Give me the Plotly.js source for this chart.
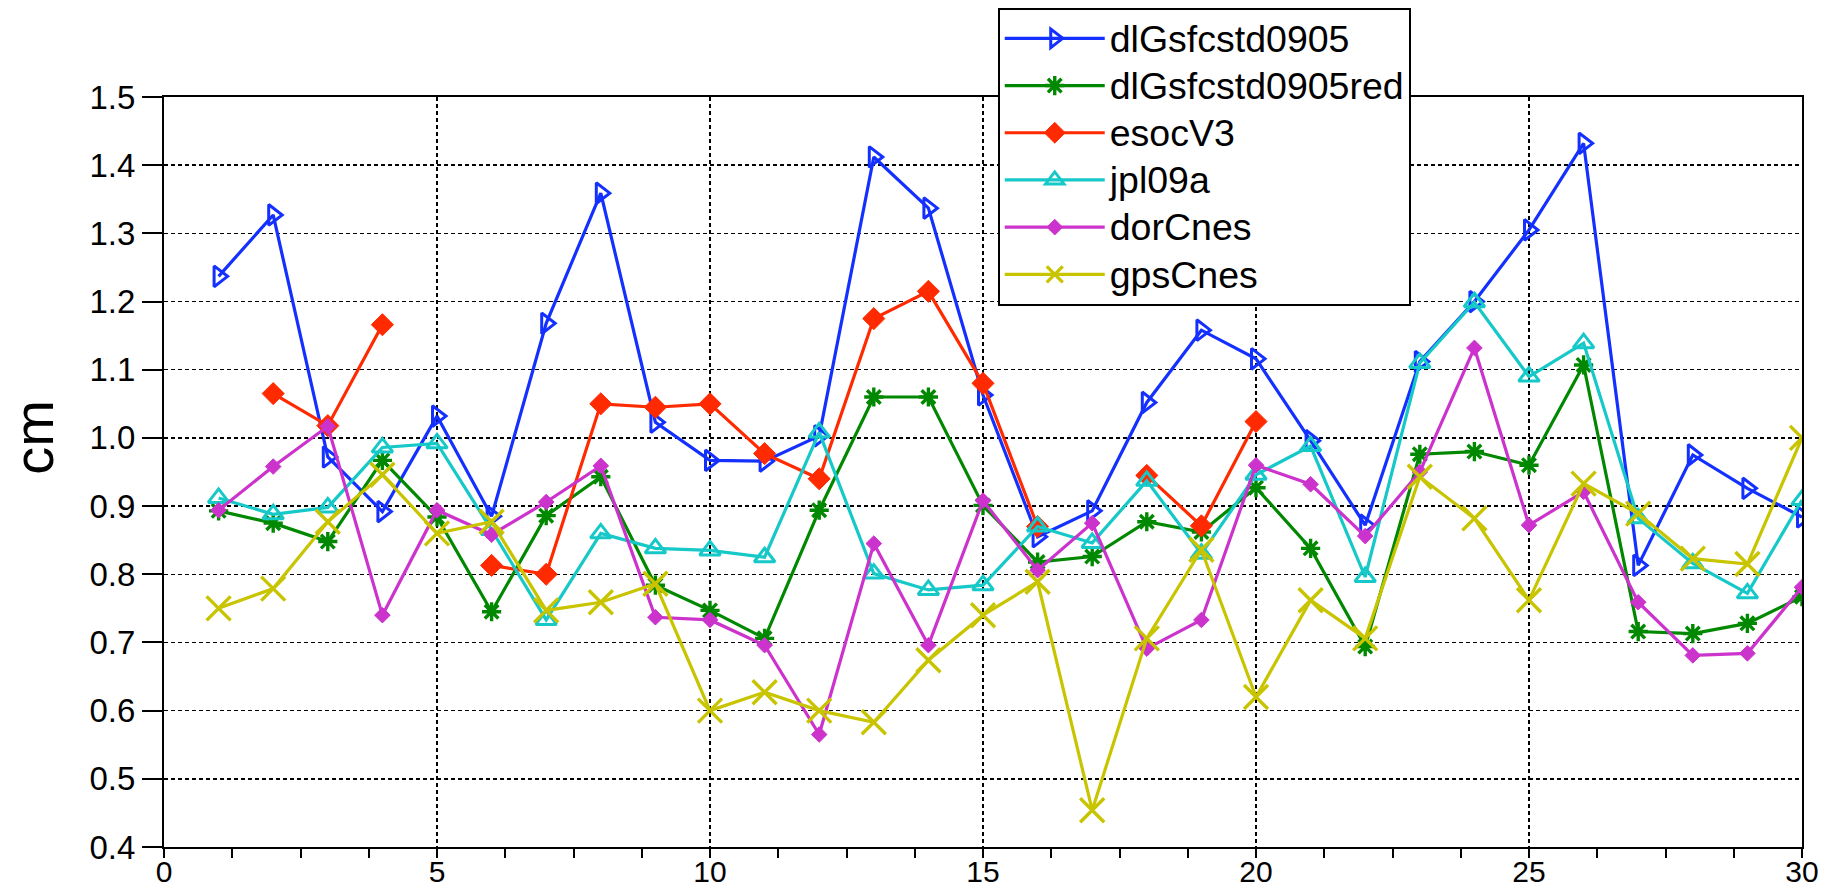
<!DOCTYPE html>
<html>
<head>
<meta charset="utf-8">
<script src="https://cdn.plot.ly/plotly-3.0.1.min.js"></script>
<style>
  html, body { margin: 0; padding: 0; background: #ffffff; }
  #chart { width: 1837px; height: 889px; }
</style>
</head>
<body>
<div id="chart"></div>
<script>
// Day index along the x axis
const days = [1,2,3,4,5,6,7,8,9,10,11,12,13,14,15,16,17,18,19,20,21,22,23,24,25,26,27,28,29,30];

// RMS values (cm) per solution
const dlGsfcstd0905 = [1.237,1.327,0.972,0.892,1.032,0.885,1.168,1.359,1.023,0.967,0.966,1.003,1.412,1.337,1.063,0.855,0.893,1.052,1.158,1.116,0.996,0.872,1.112,1.200,1.305,1.432,0.813,0.975,0.926,0.884];
const dlGsfcstd0905red = [0.893,0.875,0.848,0.967,0.884,0.745,0.886,0.943,0.784,0.747,0.706,0.894,1.060,1.060,0.901,0.818,0.826,0.877,0.862,0.927,0.838,0.694,0.976,0.980,0.960,1.107,0.716,0.713,0.728,0.767];
const esocV3 = [null,1.065,1.018,1.166,null,0.813,0.800,1.050,1.045,1.050,0.977,0.940,1.175,1.215,1.080,0.870,null,0.945,0.871,1.024,null,null,null,null,null,null,null,null,null,null];
const jpl09a = [0.912,0.888,0.898,0.986,0.992,0.865,0.733,0.860,0.838,0.835,0.825,1.008,0.801,0.777,0.784,0.870,0.846,0.937,0.830,0.946,0.988,0.796,1.110,1.199,1.090,1.139,0.882,0.816,0.772,0.909];
const dorCnes = [0.894,0.958,1.017,0.740,0.894,0.858,0.906,0.959,0.737,0.733,0.696,0.565,0.845,0.696,0.908,0.806,0.875,0.691,0.733,0.960,0.932,0.856,0.950,1.132,0.872,0.921,0.759,0.681,0.684,0.781];
const gpsCnes = [0.750,0.779,0.877,0.946,0.860,0.877,0.747,0.759,0.786,0.600,0.627,0.600,0.583,0.674,0.740,0.789,0.454,0.706,0.836,0.620,0.762,0.706,0.943,0.882,0.762,0.933,0.889,0.823,0.815,1.000];

const seriesNames = ['dlGsfcstd0905','dlGsfcstd0905red','esocV3','jpl09a','dorCnes','gpsCnes'];
const seriesValues = [dlGsfcstd0905, dlGsfcstd0905red, esocV3, jpl09a, dorCnes, gpsCnes];

// Per-series styling
const styles = [
  {color:'#1430ff', symbol:'triangle-right-open', size:18, lw:3},
  {color:'#008800', symbol:'asterisk-open',       size:16, lw:3.4},
  {color:'#ff2a00', symbol:'diamond',             size:17, lw:1},
  {color:'#16c8c8', symbol:'triangle-up-open',    size:18, lw:3},
  {color:'#cc33cc', symbol:'diamond',             size:12, lw:1},
  {color:'#c8c400', symbol:'x-thin-open',         size:24, lw:3.4}
];

// Legend labels are set a little larger than the legend row pitch
const legendLabel = name => '<span style="font-size:37.5px">' + name + '</span>';

const traces = seriesNames.map((name, i) => ({
  type: 'scatter',
  mode: 'lines+markers',
  name: legendLabel(name),
  x: days,
  y: seriesValues[i],
  connectgaps: false,
  line: {color: styles[i].color, width: 3.2},
  marker: {
    symbol: styles[i].symbol,
    size: styles[i].size,
    color: styles[i].color,
    line: {color: styles[i].color, width: styles[i].lw}
  }
}));

const font = 'Liberation Sans, Arial, Helvetica, sans-serif';

const layout = {
  width: 1837,
  height: 889,
  margin: {l: 164, r: 35, t: 97, b: 42, pad: 0, autoexpand: false},
  paper_bgcolor: '#ffffff',
  plot_bgcolor: '#ffffff',
  font: {family: font, color: '#000000', size: 32},
  showlegend: true,
  legend: {
    x: 0.509, y: 1.119, xanchor: 'left', yanchor: 'top',
    bgcolor: '#ffffff',
    bordercolor: '#000000',
    borderwidth: 2,
    font: {family: font, size: 34, color: '#000000'},
    itemwidth: 100,
    tracegroupgap: 0
  },
  xaxis: {
    range: [0, 30],
    tick0: 0,
    dtick: 5,
    ticks: 'outside',
    ticklen: 9,
    tickwidth: 2,
    tickcolor: '#000000',
    tickfont: {family: font, size: 30, color: '#000000'},
    ticklabelstandoff: -12,
    showline: true,
    linecolor: '#000000',
    linewidth: 2,
    mirror: true,
    showgrid: true,
    gridcolor: '#000000',
    gridwidth: 1.5,
    griddash: '4px,3px',
    zeroline: false,
    minor: {dtick: 1.25, tick0: 0, ticks: 'outside', ticklen: 9, tickwidth: 2, tickcolor: '#000000', showgrid: false}
  },
  yaxis: {
    range: [0.4, 1.5],
    tick0: 0.4,
    dtick: 0.1,
    tickformat: '.1f',
    ticks: 'outside',
    ticklen: 20,
    tickwidth: 2,
    tickcolor: '#000000',
    tickfont: {family: font, size: 33, color: '#000000'},
    showline: true,
    linecolor: '#000000',
    linewidth: 2,
    mirror: true,
    showgrid: true,
    gridcolor: '#000000',
    gridwidth: 1.5,
    griddash: '4px,3px',
    zeroline: false
  },
  annotations: [{
    text: 'cm',
    xref: 'paper', yref: 'paper',
    x: -0.0795, y: 0.5467,
    xanchor: 'center', yanchor: 'middle',
    textangle: -90,
    showarrow: false,
    font: {family: font, size: 56, color: '#000000'}
  }]
};

Plotly.newPlot('chart', traces, layout, {staticPlot: true, displayModeBar: false});
</script>
</body>
</html>
